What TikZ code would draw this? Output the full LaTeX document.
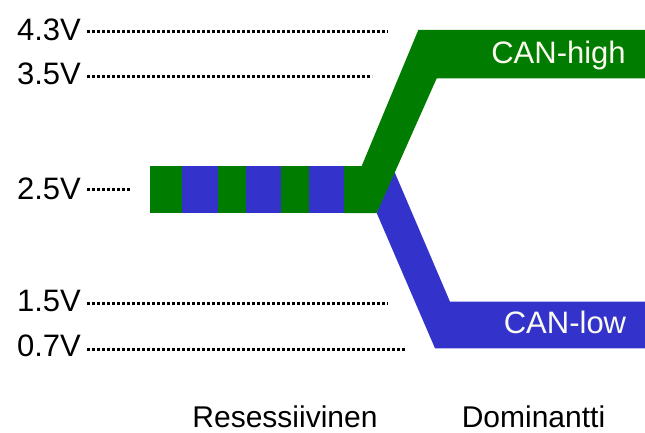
\documentclass[tikz,border=0pt]{standalone}
\usepackage{fontspec}
\setmainfont{Liberation Sans}
\definecolor{canhigh}{RGB}{0,125,0}
\definecolor{canlow}{RGB}{51,51,204}
\definecolor{bandtext}{RGB}{250,250,238}
\begin{document}
\begin{tikzpicture}[x=1pt,y=-1pt,
  volt/.style={anchor=base east, inner ysep=0pt, inner xsep=6pt,
               font=\fontsize{31}{36}\selectfont},
  level/.style={line width=3pt, dash pattern=on 3pt off 2pt},
  bandlabel/.style={anchor=base, inner sep=0pt, text=bandtext,
                    font=\fontsize{31}{36}\selectfont},
  statelabel/.style={anchor=base, inner sep=0pt,
                     font=\fontsize{30}{34}\selectfont},
  hi/.style={fill=canhigh, draw=none},
  lo/.style={fill=canlow, draw=none}]
\useasboundingbox (0,0) rectangle (645,433);

% voltage levels
\node[volt] (v43) at (87,41)    {4.3V};
\node[volt] (v35) at (87,85)    {3.5V};
\node[volt] (v25) at (87,199.3) {2.5V};
\node[volt] (v15) at (87,311.7) {1.5V};
\node[volt] (v07) at (87,356.7) {0.7V};

\coordinate (e43) at (388,32);
\coordinate (e35) at (372,77);
\coordinate (e25) at (130,189);
\coordinate (e15) at (388,303);
\coordinate (e07) at (405,349);

\draw[level] (v43.east |- e43) -- (e43);
\draw[level] (v35.east |- e35) -- (e35);
\draw[level] (v25.east |- e25) -- (e25);
\draw[level] (v15.east |- e15) -- (e15);
\draw[level] (v07.east |- e07) -- (e07);

% recessive state: both lines at 2.5V, shown as alternating stripes
\fill[hi] (149.5,166) rectangle (350,213);
\fill[lo] (181.7,166) rectangle (217.5,213);
\fill[lo] (245.7,166) rectangle (280.7,213);
\fill[lo] (309,166)   rectangle (344.3,213);

% CAN-low falls to 1.5V
\fill[lo] (376.7,213) -- (435,348.3) -- (645,348.3) -- (645,301.7)
          -- (450,301.7) -- (392,166) -- cycle;

% CAN-high rises to 3.5V
\fill[hi] (344.3,166) -- (361.7,166) -- (418.3,30) -- (645,30)
          -- (645,78.3) -- (436.7,78.3) -- (376.7,213) -- (344.3,213) -- cycle;

\node[bandlabel] (high) at (558.5,63.3)  {CAN-high};
\node[bandlabel] (low)  at (565,333.3)   {CAN-low};

% states
\node[statelabel] (rec) at (285,427)   {Resessiivinen};
\node[statelabel] (dom) at (533.5,427) {Dominantti};
\end{tikzpicture}
\end{document}
